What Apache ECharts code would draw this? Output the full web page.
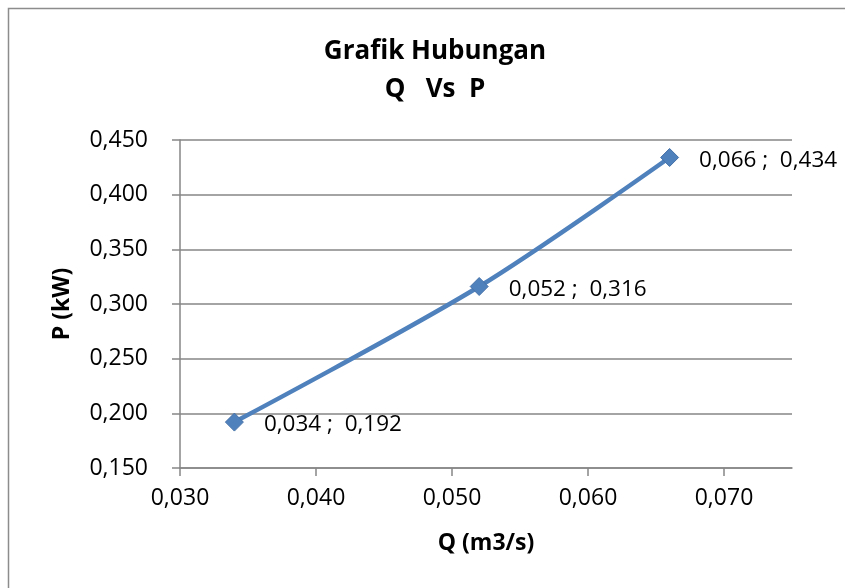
<!DOCTYPE html>
<html>
<head>
<meta charset="utf-8">
<script src="https://cdn.jsdelivr.net/npm/echarts@6/dist/echarts.min.js"></script>
<style>
  html, body { margin: 0; padding: 0; background: #fff; }
  #chart { width: 845px; height: 588px; }
</style>
</head>
<body>
<div id="chart"></div>
<script>
// data
var qValues = [0.034, 0.052, 0.066];
var pValues = [0.192, 0.316, 0.434];
var xTicks = [0.03, 0.04, 0.05, 0.06, 0.07];

var fontName = 'Open Sans';

function comma(v) {
  return v.toFixed(3).replace('.', ',');
}

var points = qValues.map(function (q, i) { return [q, pValues[i]]; });

var myChart = echarts.init(document.getElementById('chart'));

var option = {
  animation: false,
  backgroundColor: '#fff',
  title: {
    text: 'Grafik Hubungan\nQ   Vs  P',
    left: 430,
    top: 28,
    textAlign: 'center',
    textStyle: {
      fontFamily: fontName,
      fontWeight: 'bold',
      fontSize: 26,
      lineHeight: 38,
      color: '#000'
    }
  },
  graphic: [{
    type: 'rect',
    shape: { x: 8.5, y: 8.5, width: 900, height: 700 },
    style: { fill: 'none', stroke: '#8c8c8c', lineWidth: 1.5 },
    silent: true
  }],
  grid: { left: 180, top: 140, right: 53, bottom: 120 },
  xAxis: {
    type: 'value',
    min: 0.03,
    max: 0.075,
    interval: 0.01,
    name: 'Q (m3/s)',
    nameLocation: 'middle',
    nameGap: 64,
    nameTextStyle: { fontFamily: fontName, fontWeight: 'bold', fontSize: 23, color: '#000' },
    axisLine: { show: true, lineStyle: { color: '#868686', width: 1.5 } },
    axisTick: { show: true, length: 8, customValues: xTicks, lineStyle: { color: '#868686', width: 1.5 } },
    axisLabel: {
      customValues: xTicks,
      margin: 19,
      fontFamily: fontName, fontSize: 23, color: '#000',
      formatter: function (v) { return comma(v); }
    },
    splitLine: { show: false }
  },
  yAxis: {
    type: 'value',
    min: 0.15,
    max: 0.45,
    interval: 0.05,
    name: 'P (kW)',
    nameLocation: 'middle',
    nameRotate: 90,
    nameGap: 106,
    nameTextStyle: { fontFamily: fontName, fontWeight: 'bold', fontSize: 23, color: '#000' },
    axisLine: { show: true, lineStyle: { color: '#868686', width: 1.5 } },
    axisTick: { show: true, length: 8, lineStyle: { color: '#868686', width: 1.5 } },
    axisLabel: {
      margin: 32,
      fontFamily: fontName, fontSize: 23, color: '#000',
      formatter: function (v) { return comma(v); }
    },
    splitLine: { show: true, lineStyle: { color: '#868686', width: 1.5 } }
  },
  series: [{
    type: 'line',
    data: points,
    smooth: 0.3,
    symbol: 'diamond',
    symbolSize: 18,
    lineStyle: { color: '#4F81BD', width: 4.5 },
    itemStyle: { color: '#4F81BD', borderColor: '#4672A8', borderWidth: 1 },
    label: {
      show: true,
      position: 'right',
      distance: 20,
      offset: [0, 3],
      fontFamily: fontName,
      fontSize: 22.5,
      color: '#000',
      formatter: function (p) {
        return comma(p.value[0]) + ' ;  ' + comma(p.value[1]);
      }
    }
  }]
};

myChart.setOption(option);
</script>
</body>
</html>
